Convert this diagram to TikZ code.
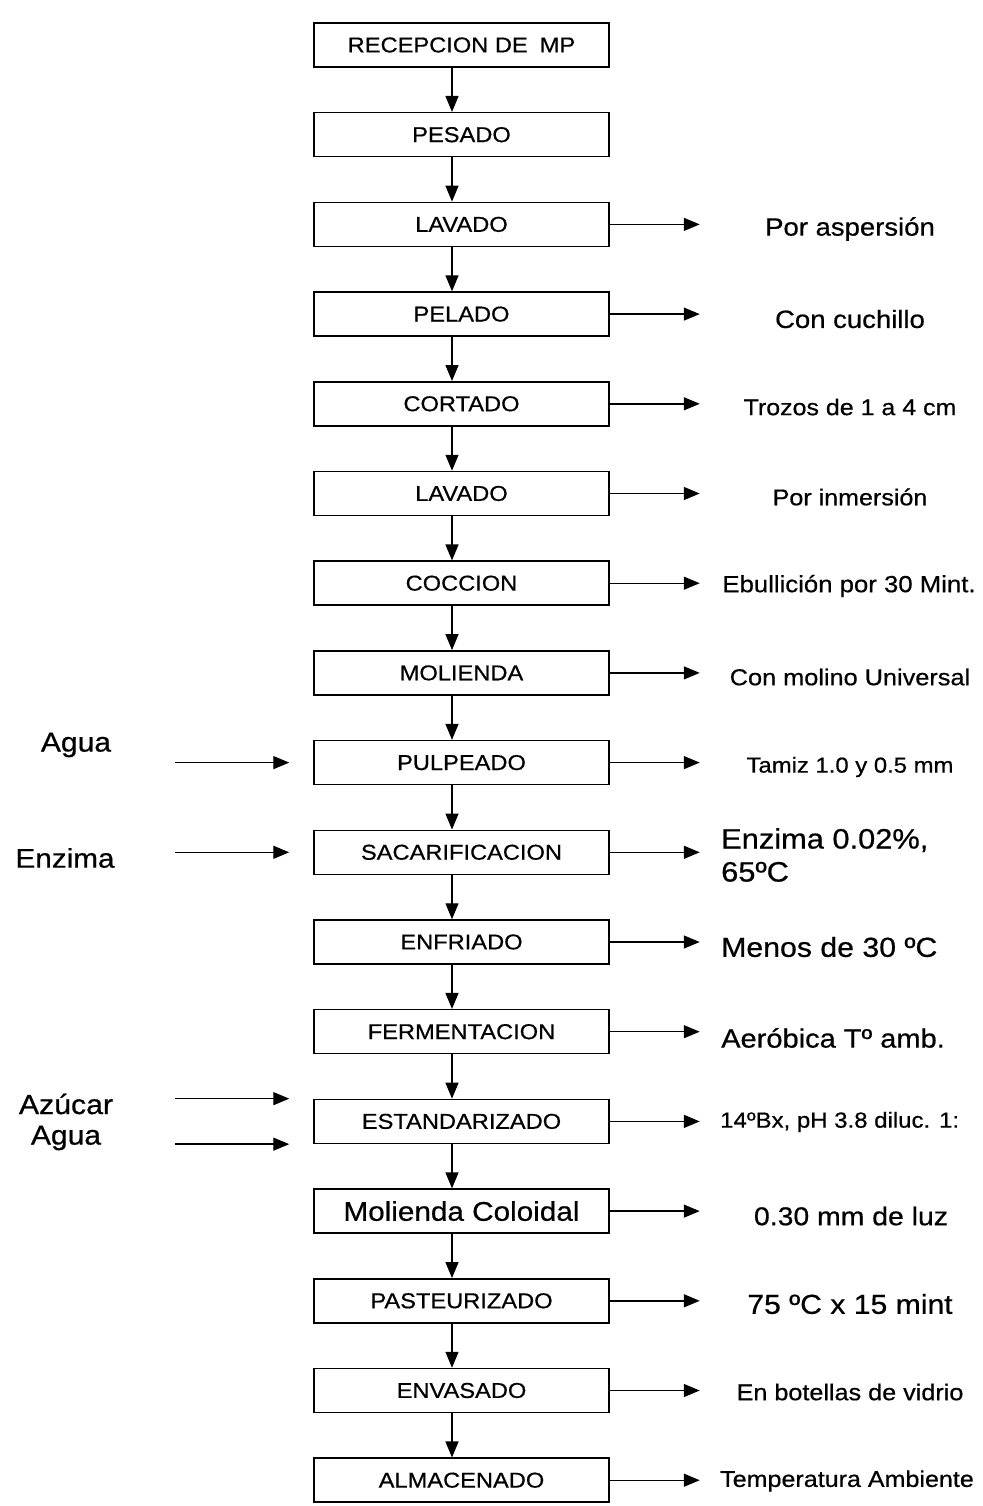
\documentclass[tikz,border=0pt]{standalone}
\usepackage{fontspec}
\setmainfont[FakeStretch=1.1,FakeBold=0.6]{Liberation Sans}
\usepackage{tikz}
\usetikzlibrary{positioning,arrows.meta}
\newcommand{\fsz}[1]{\fontsize{#1}{#1}\selectfont}
\tikzset{
node distance=44.2pt, % gap between two process boxes
proc/.style={draw, line width=1.5pt, minimum width=295pt, minimum height=44pt, inner sep=0pt, font=\fsz{21.5}},
arr/.style={line width=1.4pt, -{Triangle[length=16pt,width=13pt]}},
note/.style={inner sep=0pt, font=\fsz{#1}},
}

\begin{document}
\begin{tikzpicture}[x=1pt,y=1pt,yscale=-1,xscale=1]
		\useasboundingbox (0,0) rectangle (982,1506);

		% Process boxes
		\node [proc] (recep) at (461.5,45) {RECEPCION DE\hspace{12pt}MP};
		\node [proc, below=of recep] (pesado) {PESADO};
		\node [proc, below=of pesado] (lavado) {LAVADO};
		\node [proc, below=of lavado] (pelado) {PELADO};
		\node [proc, below=of pelado] (cortado) {CORTADO};
		\node [proc, below=of cortado] (lavadob) {LAVADO};
		\node [proc, below=of lavadob] (coccion) {COCCION};
		\node [proc, below=of coccion] (molienda) {MOLIENDA};
		\node [proc, below=of molienda] (pulpeado) {PULPEADO};
		\node [proc, below=of pulpeado] (sacar) {SACARIFICACION};
		\node [proc, below=of sacar] (enfriado) {ENFRIADO};
		\node [proc, below=of enfriado] (ferment) {FERMENTACION};
		\node [proc, below=of ferment] (estand) {ESTANDARIZADO};
		\node [proc, below=of estand, font=\fsz{27}] (coloidal) {Molienda Coloidal};
		\node [proc, below=of coloidal] (pasteur) {PASTEURIZADO};
		\node [proc, below=of pasteur] (envasado) {ENVASADO};
		\node [proc, below=of envasado] (almacen) {ALMACENADO};

		% Connection (main line)
		\foreach \a/\b in {recep/pesado, pesado/lavado, lavado/pelado, pelado/cortado, cortado/lavadob, lavadob/coccion, coccion/molienda, molienda/pulpeado, pulpeado/sacar, sacar/enfriado, enfriado/ferment, ferment/estand, estand/coloidal, coloidal/pasteur, pasteur/envasado, envasado/almacen}
			\draw [arr] ([xshift=-9.5pt]\a.south) -- ([xshift=-9.5pt]\b.north);

		% Text Node (right notes)
		\node [note=25] (nlav) at (850,229) {Por aspersión};
		\node [note=25] (npel) at (850,319) {Con cuchillo};
		\node [note=22.7] (ncor) at (850,407) {Trozos de 1 a 4 cm};
		\node [note=22.8] (nlavb) at (850,497) {Por inmersión};
		\node [note=23.4] (ncoc) at (849,586) {Ebullición por 30 Mint.};
		\node [note=23] (nmol) at (850,677) {Con molino Universal};
		\node [note=21.7] (npul) at (850,767) {Tamiz 1.0 y 0.5 mm};
		\node [note=28, anchor=west, align=left] (nsac) at (721,855) {Enzima 0.02\%,\\[5pt]65ºC};
		\node [note=27.5, anchor=west] (nenf) at (721,947) {Menos de 30 ºC};
		\node [note=26.4, anchor=west] (nfer) at (721,1038) {Aeróbica Tº amb.};
		\node [note=21.8, anchor=west] (nest) at (720,1122) {14ºBx, pH 3.8 diluc. 1:};
		\node [note=25.8] (ncol) at (851,1216) {0.30 mm de luz};
		\node [note=27.4] (npas) at (850,1304) {75 ºC x 15 mint};
		\node [note=22.9] (nenv) at (850,1392) {En botellas de vidrio};
		\node [note=22.8] (nalm) at (847,1481) {Temperatura Ambiente};

		% Connection (right side)
		\foreach \b in {lavado, pelado, cortado, lavadob, coccion, molienda, pulpeado, sacar, enfriado, ferment, estand, coloidal, pasteur, envasado, almacen}
			\draw [arr] (\b.east) -- ++(90,0);

		% Text Node (inputs)
		\node [note=27.3] (agua) at (76,745) {Agua};
		\node [note=27] (enzima) at (65,858) {Enzima};
		\node [note=27.5] (azucar) at (66,1104) {Azúcar};
		\node [note=27.3] (aguab) at (66,1138) {Agua};

		% Connection (inputs)
		\draw [arr, shorten >=24pt] ([xshift=-138pt]pulpeado.west) -- (pulpeado.west);
		\draw [arr, shorten >=24pt] ([xshift=-138pt]sacar.west) -- (sacar.west);
		\draw [arr, shorten >=24pt] ([xshift=-138pt]estand.north west) -- (estand.north west);
		\draw [arr, shorten >=24pt] ([xshift=-138pt]estand.south west) -- (estand.south west);

		\end{tikzpicture}
\end{document}
